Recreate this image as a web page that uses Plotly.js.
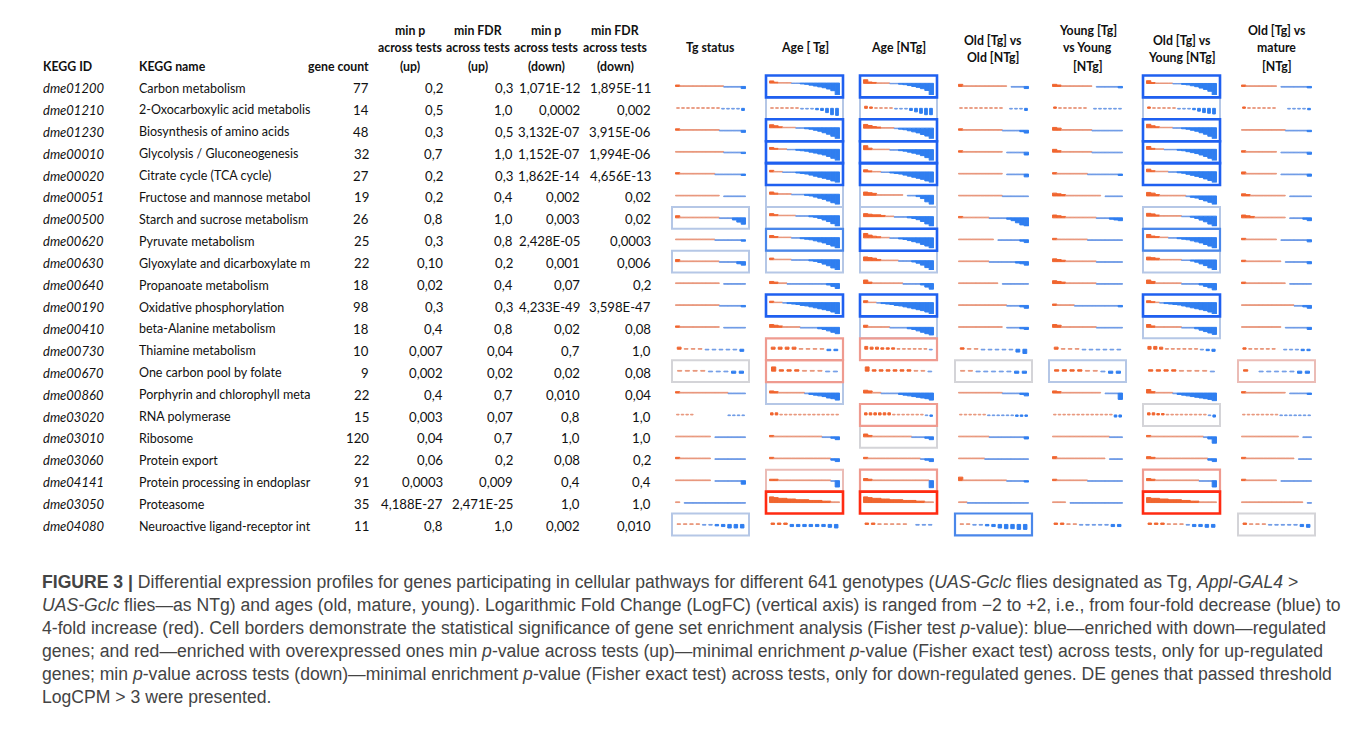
<!DOCTYPE html>
<html><head><meta charset="utf-8">
<script src="https://cdn.plot.ly/plotly-3.0.1.min.js"></script>
<style>html,body{margin:0;padding:0;background:#fff;} #chart{width:1362px;height:734px;}</style>
</head><body><div id="chart"></div>
<script>
// ---------------- table data ----------------
const keggIds = ['dme01200','dme01210','dme01230','dme00010','dme00020','dme00051','dme00500','dme00620','dme00630','dme00640','dme00190','dme00410','dme00730','dme00670','dme00860','dme03020','dme03010','dme03060','dme04141','dme03050','dme04080'];
const keggNames = ['Carbon metabolism','2-Oxocarboxylic acid metabolis','Biosynthesis of amino acids','Glycolysis / Gluconeogenesis','Citrate cycle (TCA cycle)','Fructose and mannose metabol','Starch and sucrose metabolism','Pyruvate metabolism','Glyoxylate and dicarboxylate m','Propanoate metabolism','Oxidative phosphorylation','beta-Alanine metabolism','Thiamine metabolism','One carbon pool by folate','Porphyrin and chlorophyll meta','RNA polymerase','Ribosome','Protein export','Protein processing in endoplasr','Proteasome','Neuroactive ligand-receptor int'];
const geneCounts = [77,14,48,32,27,19,26,25,22,18,98,18,10,9,22,15,120,22,91,35,11];
const minPUp = ['0,2','0,5','0,3','0,7','0,2','0,2','0,8','0,3','0,10','0,02','0,3','0,4','0,007','0,002','0,4','0,003','0,04','0,06','0,0003','4,188E-27','0,8'];
const minFdrUp = ['0,3','1,0','0,5','1,0','0,3','0,4','1,0','0,8','0,2','0,4','0,3','0,8','0,04','0,02','0,7','0,07','0,7','0,2','0,009','2,471E-25','1,0'];
const minPDown = ['1,071E-12','0,0002','3,132E-07','1,152E-07','1,862E-14','0,002','0,003','2,428E-05','0,001','0,07','4,233E-49','0,02','0,7','0,02','0,010','0,8','1,0','0,08','0,4','1,0','0,002'];
const minFdrDown = ['1,895E-11','0,002','3,915E-06','1,994E-06','4,656E-13','0,02','0,02','0,0003','0,006','0,2','3,598E-47','0,08','1,0','0,08','0,04','1,0','1,0','0,2','0,4','1,0','0,010'];

const sparkHeaders = [['Tg status'],['Age [ Tg]'],['Age [NTg]'],['Old [Tg] vs','Old [NTg]'],['Young [Tg]','vs Young','[NTg]'],['Old [Tg] vs','Young [NTg]'],['Old [Tg] vs','mature','[NTg]']];

// sorted LogFC profiles per cell (tenths of LogFC), 0 = no value
const spark_TgStatus = [
[2,1,1,1,1,1,1,1,1,1,1,-1,-1,-1,-1,-3],
[1,1,1,1,1,1,1,1,1,-1,-1,-1,-1,-3],
[2,1,1,1,1,1,1,1,1,1,-1,-1,-1,-1,-1,-3],
[1,1,1,1,1,1,1,1,1,1,1,-1,-1,-1,-1,-2],
[2,1,1,1,1,1,1,1,1,-1,-1,-1,-1,-1,-1,-2],
[1,1,1,1,1,1,1,1,1,1,0,-1,-1,-1,-1,-1],
[3,1,1,1,1,1,1,1,1,1,-1,-1,-1,-3,-6,-9],
[1,1,1,1,1,1,1,1,1,-1,-1,-1,-1,-1,-1,-2],
[3,1,1,1,1,1,1,1,1,1,-1,-1,-1,-1,-3,-5],
[1,1,1,1,1,1,1,1,1,1,0,-1,-1,-1,-1,-1],
[1,1,1,1,1,1,1,1,1,1,-1,-1,-1,-1,-1,-2],
[2,1,1,1,1,1,1,1,1,1,0,-1,-1,-1,-1,-1],
[3,1,1,1,-1,-1,-1,-1,-1,-3],
[1,1,1,1,-1,-1,-1,-3,-3],
[2,1,1,1,1,1,1,1,1,1,1,1,-1,-1,-1,-1],
[1,1,1,1,0,0,0,0,0,0,0,-1,-1,-1,-1],
[1,1,1,1,1,1,1,1,0,-1,-1,-1,-1,-1,-1,-1],
[2,1,1,1,1,1,1,1,0,-1,-1,-1,-1,-1,-1,-1],
[1,1,1,1,1,1,1,1,0,-1,-1,-1,-1,-1,-1,-5],
[1,0,-1,-1,-1,-1,-1,-1,-1,-1,-1,-1,-1,-1,-1,-1],
[1,1,1,1,-1,-1,-2,-3,-5,-5,-5]];
const spark_AgeTg = [
[5,2,1,1,1,-1,-1,-2,-3,-5,-7,-9,-11,-14,-18,-28],
[1,1,1,1,1,1,-1,-1,-1,-2,-3,-6,-9,-10],
[6,4,2,1,1,1,-1,-1,-2,-3,-5,-7,-10,-13,-17,-22],
[4,2,1,1,-1,-1,-2,-3,-4,-6,-8,-10,-12,-15,-19,-24],
[3,1,1,-1,-1,-1,-2,-3,-4,-6,-8,-10,-12,-14,-17,-20],
[4,2,1,1,1,-1,-1,-1,-2,-3,-5,-7,-9,-12,-15,-18],
[4,2,1,1,1,1,-1,-1,-1,-2,-3,-5,-8,-11,-15,-20],
[4,2,1,1,1,-1,-1,-2,-3,-4,-6,-8,-10,-13,-16,-20],
[3,1,1,1,1,-1,-1,-1,-1,-2,-3,-5,-8,-11,-15,-19],
[3,2,1,1,-1,-1,-1,-1,-1,-1,-1,-1,-1,-2,-4,-7],
[3,1,1,-1,-2,-3,-4,-6,-7,-9,-11,-13,-15,-17,-20,-24],
[4,3,2,1,1,1,1,-1,-1,-1,-1,-2,-3,-5,-7,-9],
[3,3,3,3,1,1,1,1,-2,-2],
[6,2,2,2,1,1,1,-1,-1],
[3,2,1,1,1,1,1,1,-1,-2,-3,-4,-5,-7,-8,-10],
[3,3,1,1,1,1,1,1,1,1,1,1,1,1,1],
[2,1,1,1,1,1,1,1,1,1,1,1,-1,-1,-2,-4],
[2,1,1,1,1,1,1,1,1,1,1,1,1,1,-2,-4],
[2,2,1,1,1,1,1,1,1,1,1,1,1,1,-1,-9],
[8,7,6,6,5,5,4,4,4,3,3,3,2,2,1,1],
[2,2,2,-3,-3,-3,-3,-3,-3,-4,-5]];
const spark_AgeNTg = [
[8,3,2,1,1,1,-1,-1,-2,-3,-5,-7,-9,-12,-16,-26],
[3,2,1,1,1,1,-1,-1,-1,-3,-5,-7,-9,-9],
[7,5,3,2,1,1,1,-1,-2,-3,-5,-7,-9,-12,-15,-20],
[8,3,1,1,1,1,-1,-1,-2,-3,-5,-7,-9,-12,-16,-22],
[4,2,1,1,-1,-1,-2,-3,-4,-6,-8,-10,-12,-14,-17,-20],
[5,4,3,1,1,1,1,1,1,0,-1,-1,-2,-5,-10,-14],
[5,4,3,3,2,1,1,-1,-1,-1,-2,-3,-5,-8,-12,-16],
[8,5,3,2,1,1,-1,-1,-2,-3,-5,-7,-9,-12,-15,-19],
[6,5,4,2,1,1,1,1,-1,-1,-1,-2,-4,-7,-11,-15],
[5,2,1,1,1,1,1,1,1,-1,-1,-1,-1,-2,-5,-8],
[4,1,1,-1,-2,-3,-4,-6,-7,-9,-11,-13,-15,-17,-20,-24],
[3,1,1,1,1,1,-1,-1,-1,-1,-2,-3,-5,-7,-9,-11],
[4,3,3,2,2,2,1,1,1,1,1,1,-1],
[6,2,2,2,2,2,2,1,1,-1],
[4,3,1,1,-1,-1,-1,-1,-2,-3,-4,-5,-6,-7,-8,-10],
[3,3,3,3,3,3,1,1,1,1,1,1,1,-1,-2],
[4,2,1,1,1,1,1,1,1,1,1,-1,-1,-1,-2,-4],
[2,1,1,1,1,1,1,1,1,1,1,1,1,-1,-2,-4],
[3,2,1,1,1,1,1,1,1,1,1,1,1,1,1,-10],
[8,7,6,6,5,5,4,4,4,3,3,3,2,2,1,1],
[2,2,1,1,1,1,1,0,-1,-1,-1]];
const spark_OldTgOldNTg = [
[3,1,1,1,1,1,1,1,1,1,1,0,-1,-1,-1,-3],
[1,1,1,1,1,1,1,1,1,0,-1,-1,-1,-3],
[2,1,1,1,1,1,1,1,1,1,-1,-1,-1,-1,-2,-4],
[2,1,1,1,1,1,1,1,1,1,0,-1,-1,-1,-1,-4],
[1,1,1,1,1,1,1,1,1,1,0,-1,-1,-1,-1,-4],
[1,1,1,1,1,1,1,1,1,1,-1,-1,-1,-1,-1,-1],
[2,1,1,1,1,1,1,-1,-1,-1,-1,-2,-4,-7,-10,-12],
[1,1,1,1,1,1,1,1,0,-1,-1,-1,-1,-1,-2,-4],
[1,1,1,1,1,1,1,-1,-1,-1,-1,-1,-1,-2,-3,-5],
[1,1,1,1,1,1,1,1,1,0,-1,-1,-1,-1,-1,-1],
[1,1,1,1,1,1,1,1,1,1,1,-1,-1,-1,-2,-4],
[1,1,1,1,1,1,1,1,1,1,0,-1,-1,-1,-2,-3],
[2,1,1,-1,-1,-1,-1,-1,-4,-6],
[1,1,-1,-1,-1,-1,-1,-3,-3],
[1,1,1,1,1,1,1,1,1,1,-1,-1,-1,-1,-2,-4],
[1,1,1,1,1,1,-1,-1,-1,-1,-1,-1,-2,-2,-2],
[1,1,1,1,1,1,1,-1,-1,-1,-1,-1,-1,-1,-1,-3],
[1,1,1,1,1,1,-1,-1,-1,-1,-1,-1,-1,-1,-1,-1],
[5,1,1,1,1,1,1,1,1,1,1,-1,-1,-1,-1,-2],
[1,1,-1,-1,-1,-1,-1,-1,-1,-1,-1,-1,-1,-1,-1,-1],
[1,1,-1,-1,-2,-3,-5,-6,-6,-7,-7]];
const spark_YoungTgYoungNTg = [
[3,2,1,1,1,1,1,1,1,0,-1,-1,-1,-1,-1,-2],
[2,1,1,1,1,1,1,0,-1,-1,-1,-1,-1,-1],
[4,3,1,1,1,1,1,1,1,-1,-1,-1,-1,-1,-1,-1],
[4,2,1,1,1,1,1,1,1,-1,-1,-1,-1,-1,-1,-1],
[2,1,1,1,1,1,1,1,-1,-1,-1,-1,-1,-1,-1,-2],
[4,3,2,1,1,1,1,1,1,1,1,0,-1,-1,-1,-1],
[4,3,2,1,1,1,1,1,1,1,-1,-1,-1,-2,-3,-4],
[2,1,1,1,1,1,1,1,-1,-1,-1,-1,-1,-1,-1,-1],
[4,3,2,1,1,1,1,1,1,1,-1,-1,-1,-1,-1,-1],
[4,3,2,1,1,1,1,1,1,1,-1,-1,-1,-1,-1,-1],
[2,1,1,1,1,-1,-1,-1,-1,-1,-1,-1,-1,-1,-1,-2],
[4,3,1,1,1,1,1,1,1,1,-1,-1,-1,-1,-1,-1],
[3,1,1,1,-1,-1,-1,-1,-1,-1],
[2,2,2,2,1,1,-1,-3,-3],
[3,2,1,1,1,1,1,1,1,1,1,0,-1,-1,-1,-9],
[1,1,1,1,1,1,1,1,1,1,1,1,1,-3,-3],
[1,1,1,1,1,1,1,1,1,1,1,1,1,-1,-1,-1],
[3,1,1,1,1,1,1,1,1,1,1,1,0,-1,-1,-1],
[2,1,1,1,1,1,1,1,-1,-1,-1,-1,-1,-1,-1,-1],
[1,1,1,0,-1,-1,-1,-1,-1,-1,-1,-1,-1,-1,-1,-1],
[2,2,1,1,-1,-1,-1,-1,-1,-3,-3]];
const spark_OldTgYoungNTg = [
[6,2,1,1,1,1,-1,-1,-2,-3,-5,-7,-10,-13,-17,-25],
[2,1,1,1,1,1,-1,-1,-1,-2,-4,-6,-7,-8],
[7,4,2,1,1,1,-1,-1,-2,-3,-5,-7,-10,-13,-17,-22],
[6,2,1,1,-1,-1,-1,-2,-3,-5,-7,-9,-12,-15,-19,-24],
[5,2,1,1,1,-1,-1,-2,-3,-5,-7,-9,-11,-14,-17,-21],
[5,4,2,1,1,1,1,1,1,-1,-2,-3,-5,-7,-9,-12],
[5,4,2,1,1,1,1,1,-1,-1,-2,-4,-7,-10,-14,-18],
[6,3,2,1,1,-1,-1,-2,-3,-4,-6,-8,-10,-13,-16,-20],
[5,4,3,1,1,1,1,1,-1,-1,-2,-4,-7,-10,-14,-18],
[5,3,1,1,1,1,1,1,-1,-1,-1,-1,-2,-4,-6,-9],
[4,2,1,-1,-2,-3,-4,-5,-7,-9,-11,-13,-15,-17,-20,-24],
[4,2,1,1,1,1,1,1,-1,-1,-1,-2,-4,-6,-8,-10],
[4,4,3,1,1,1,1,1,1,-1,-2,-3],
[2,2,2,2,1,1,1,1,-1],
[5,2,1,1,1,1,-1,-2,-3,-4,-5,-6,-7,-8,-9,-11],
[3,3,2,2,1,1,1,1,1,1,1,1,1,-1,-3],
[2,1,1,1,1,1,1,1,1,1,1,1,1,-1,-3,-9],
[3,2,1,1,1,1,1,1,1,1,1,1,1,1,-2,-4],
[3,2,1,1,1,1,1,1,1,1,1,1,-1,-1,-1,-9],
[7,6,6,5,5,4,4,4,3,3,2,2,1,1,1,1],
[2,2,2,1,1,1,-1,-3,-3,-4,-4]];
const spark_OldTgMatureNTg = [
[2,1,1,1,1,1,1,1,0,-1,-1,-1,-1,-1,-1,-2],
[2,1,1,1,1,1,1,0,0,-1,-1,-1,-1,-2],
[1,1,1,1,1,1,1,1,1,1,-1,-1,-1,-1,-1,-2],
[2,1,1,1,1,1,1,1,0,-1,-1,-1,-1,-1,-1,-3],
[3,1,1,1,1,1,1,1,0,-1,-1,-1,-1,-1,-1,-3],
[3,2,1,1,1,1,1,1,1,1,0,-1,-1,-1,-1,-1],
[4,3,2,1,1,1,1,1,1,1,0,-1,-1,-1,-2,-4],
[2,1,1,1,1,1,1,1,0,-1,-1,-1,-1,-1,-1,-3],
[2,1,1,1,1,1,1,1,1,0,-1,-1,-1,-1,-1,-3],
[2,1,1,1,1,1,1,1,1,1,0,-1,-1,-1,-1,-1],
[1,1,1,1,1,1,1,1,1,1,1,1,-1,-1,-2,-4],
[1,1,1,1,1,1,1,1,1,0,-1,-1,-1,-1,-1,-3],
[2,1,1,1,1,1,0,-1,-1,-1,-2,-2],
[2,0,-1,-1,-1,-1,-1,-3,-3],
[2,1,1,1,1,1,1,1,1,1,0,-1,-1,-1,-1,-2],
[1,1,1,1,1,1,1,1,-1,-1,-1,-1,-1,-1,-1],
[1,1,1,1,1,1,1,1,1,1,1,1,1,0,-1,-1],
[2,1,1,1,1,1,1,1,1,1,1,1,0,-1,-1,-1],
[2,1,1,1,1,1,1,1,0,-1,-1,-1,-1,-1,-1,-1],
[1,1,1,1,1,1,1,1,1,1,1,1,1,1,0,-1],
[2,1,1,1,-1,-1,-1,-1,-1,-3,-4]];

// enrichment border per cell: b = down-enriched (blue), r = up-enriched (red), g = weak; 1..3 = strength
const border_TgStatus = ['','','','','','','b1','','b1','','','','','g','','','','','','','b1'];
const border_AgeTg = ['b3','b1','b3','b3','b3','b1','b1','b2','b1','','b3','','r2','r2','b1','','','','r1','r3',''];
const border_AgeNTg = ['b3','b1','b3','b3','b3','b1','b1','b3','b1','','b3','b1','r2','','','r2','g','','r2','r3',''];
const border_OldTgOldNTg = ['','','','','','','','','','','','','','g','','','','','','','b2'];
const border_YoungTgYoungNTg = ['','','','','','','','','','','','','','b1','','','','','','',''];
const border_OldTgYoungNTg = ['b3','b1','b3','b3','b3','','b1','b2','b1','','b3','b1','','','','g','','','r2','r3',''];
const border_OldTgMatureNTg = ['','','','','','','','','','','','','','r1','','','','','','','g'];

const captionLines = [
 '<b>FIGURE 3 |</b> Differential expression profiles for genes participating in cellular pathways for different 641 genotypes (<i>UAS-Gclc</i> flies designated as Tg, <i>Appl-GAL4</i> >',
 '<i>UAS-Gclc</i> flies—as NTg) and ages (old, mature, young). Logarithmic Fold Change (LogFC) (vertical axis) is ranged from −2 to +2, i.e., from four-fold decrease (blue) to',
 '4-fold increase (red). Cell borders demonstrate the statistical significance of gene set enrichment analysis (Fisher test <i>p</i>-value): blue—enriched with down—regulated',
 'genes; and red—enriched with overexpressed ones min <i>p</i>-value across tests (up)—minimal enrichment <i>p</i>-value (Fisher exact test) across tests, only for up-regulated',
 'genes; min <i>p</i>-value across tests (down)—minimal enrichment <i>p</i>-value (Fisher exact test) across tests, only for down-regulated genes. DE genes that passed threshold',
 'LogCPM > 3 were presented.'];

// ---------------- layout / drawing ----------------
const W = 1362, H = 734;
const px = x => x / W, py = y => 1 - y / H;
const SPARK = [spark_TgStatus, spark_AgeTg, spark_AgeNTg, spark_OldTgOldNTg, spark_YoungTgYoungNTg, spark_OldTgYoungNTg, spark_OldTgMatureNTg];
const BORDERS = [border_TgStatus, border_AgeTg, border_AgeNTg, border_OldTgOldNTg, border_YoungTgYoungNTg, border_OldTgYoungNTg, border_OldTgMatureNTg];
const colLeft = [672, 766, 860, 955, 1049, 1143, 1238];
const cellW = 77, rowTop0 = 75.5, rowH = 21.9;
const RED = '#f0652f', RED_L = '#e8977c', BLUE = '#2f7ef0', BLUE_L = '#6f9be6';
const borderStyle = {
  b3:{c:'#1f60f0', w:2.6, o:6}, b2:{c:'#4a87ea', w:2.2, o:5}, b1:{c:'#b5c7e6', w:2, o:2},
  g:{c:'#d4d4d8', w:2, o:1}, r1:{c:'#ebbcb6', w:2, o:2}, r2:{c:'#ef9b90', w:2.2, o:4}, r3:{c:'#ff2b12', w:2.6, o:7}
};

const traces = [];
const layout = {width: W, height: H, margin:{l:0,r:0,t:0,b:0}, paper_bgcolor:'#fff', plot_bgcolor:'rgba(0,0,0,0)',
  showlegend:false, bargap:0, annotations:[], shapes:[]};
let k = 0;
SPARK.forEach((col, c) => col.forEach((vals, r) => {
  k++;
  const sfx = k === 1 ? '' : String(k);
  const x0 = colLeft[c] + 3, x1 = colLeft[c] + cellW - 3;
  const yTop = rowTop0 + r * rowH + 2.5, yBot = rowTop0 + (r + 1) * rowH - 2.5;
  const dashed = geneCounts[r] <= 15;
  const yv = vals.map(v => v === 0 ? null : v / 10);
  const colors = vals.map(v => v > 0 ? (v <= 1 ? RED_L : RED) : (v >= -1 ? BLUE_L : BLUE));
  traces.push({type:'bar', x: vals.map((_, i) => i), y: yv, xaxis:'x' + sfx, yaxis:'y' + sfx,
    width: dashed ? 0.55 : 1, marker:{color: colors, line:{width:1, color: colors}}, hoverinfo:'skip'});
  const mn = Math.min(...vals) / 10, mx = Math.max(...vals) / 10;
  layout['xaxis' + sfx] = {domain:[px(x0), px(x1)], range:[-0.6, vals.length - 0.4], visible:false, fixedrange:true, anchor:'y' + sfx};
  layout['yaxis' + sfx] = {domain:[py(yBot), py(yTop)], range:[Math.min(-1.2, mn), Math.max(1.2, mx)], visible:false, fixedrange:true, anchor:'x' + sfx};
}));

// enrichment borders
const boxes = [];
BORDERS.forEach((col, c) => col.forEach((b, r) => { if (b) boxes.push({c, r, s: borderStyle[b]}); }));
boxes.sort((a, b) => a.s.o - b.s.o);
boxes.forEach(({c, r, s}) => {
  const yT = rowTop0 + r * rowH, yB = yT + rowH;
  layout.shapes.push({type:'rect', xref:'paper', yref:'paper', x0: px(colLeft[c]), x1: px(colLeft[c] + cellW),
    y0: py(yB), y1: py(yT), line:{color: s.c, width: s.w}, fillcolor:'rgba(0,0,0,0)'});
});

// text
const FONT = 'Lato, "Open Sans", sans-serif';
function txt(x, y, text, opt) {
  layout.annotations.push(Object.assign({xref:'paper', yref:'paper', x: px(x), y: py(y), text, showarrow:false,
    xanchor:'left', yanchor:'middle', borderpad:0, font:{family:FONT, size:12.5, color:'#111'}}, opt || {}));
}
const HB = {family:FONT, size:12.3, color:'#111', weight:700};
const NUM = {family:FONT, size:13.2, color:'#111'};
txt(42, 67, '<b>KEGG ID</b>', {font:HB});
txt(138, 67, '<b>KEGG name</b>', {font:HB});
txt(370, 67, '<b>gene count</b>', {font:HB, xanchor:'right'});
const statHead = [[410,'(up)','min p'],[478,'(up)','min FDR'],[546,'(down)','min p'],[615,'(down)','min FDR']];
statHead.forEach(([x, l3, l1]) => {
  txt(x, 30, '<b>' + l1 + '</b>', {font:HB, xanchor:'center'});
  txt(x, 48, '<b>across tests</b>', {font:HB, xanchor:'center'});
  txt(x, 67, '<b>' + l3 + '</b>', {font:HB, xanchor:'center'});
});
const headY = {1:[48], 2:[40,57.5], 3:[30,48,67]};
sparkHeaders.forEach((lines, c) => {
  const ys = headY[lines.length];
  lines.forEach((l, i) => txt(colLeft[c] + cellW / 2, ys[i], '<b>' + l + '</b>', {font:HB, xanchor:'center'}));
});
keggIds.forEach((id, r) => {
  const y = 88 + r * 21.9;
  txt(42, y, '<i>' + id + '</i>', {font:{family:FONT, size:13, color:'#111'}});
  txt(138, y, keggNames[r]);
  txt(370, y, String(geneCounts[r]), {xanchor:'right', font:NUM});
  txt(444, y, minPUp[r], {xanchor:'right', font:NUM});
  txt(514, y, minFdrUp[r], {xanchor:'right', font:NUM});
  txt(581, y, minPDown[r], {xanchor:'right', font:NUM});
  txt(652, y, minFdrDown[r], {xanchor:'right', font:NUM});
});
captionLines.forEach((l, i) => {
  txt(41, 582 + i * 22.9, l, {font:{family:'"Liberation Sans", Arial, sans-serif', size:17.6, color:'#444'}});
});

Plotly.newPlot('chart', traces, layout, {staticPlot:true, displayModeBar:false});
</script>
</body></html>
